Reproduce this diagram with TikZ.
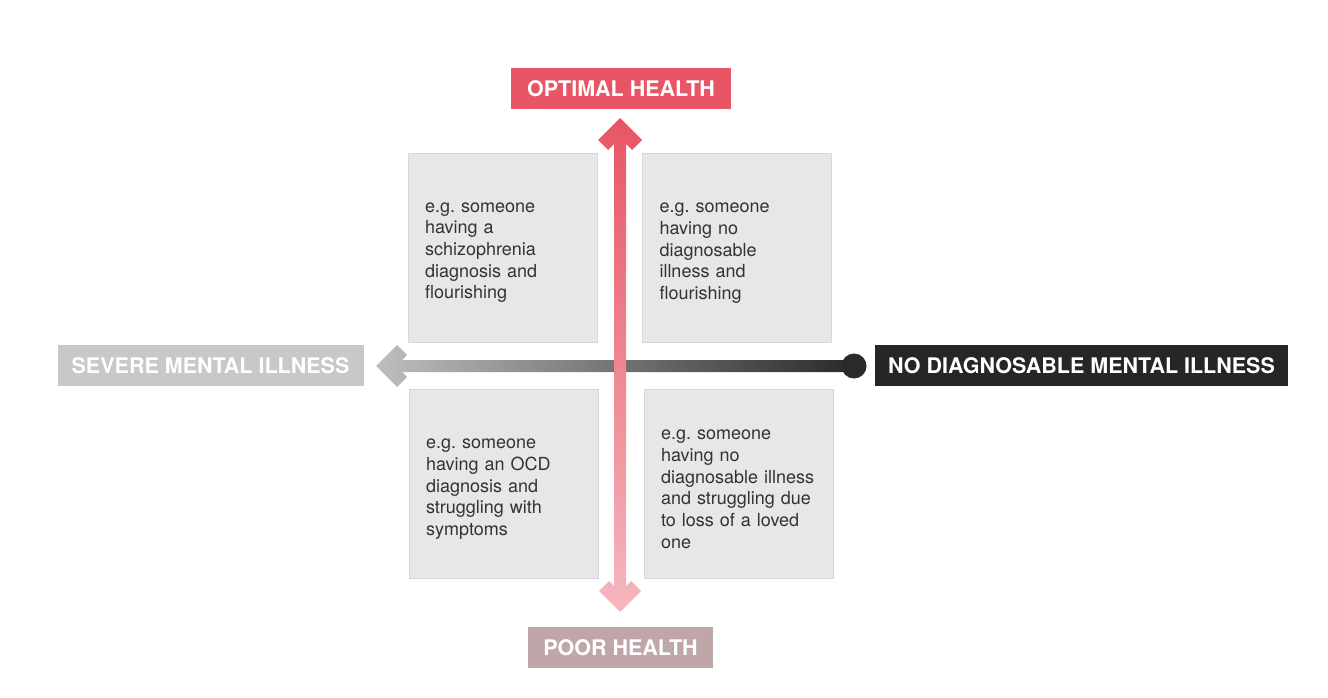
\documentclass[tikz,border=0pt]{standalone}
\usepackage{fontspec}
\setmainfont{TeX Gyre Heros}
\definecolor{optc}{HTML}{E85565}
\definecolor{poorc}{HTML}{BFA6A9}
\definecolor{sevc}{HTML}{C8C8C8}
\definecolor{nodc}{HTML}{262626}
\definecolor{quadfill}{HTML}{E6E7E8}
\definecolor{quadline}{HTML}{D6D7D8}
\definecolor{textgray}{HTML}{333333}
\definecolor{vtopc}{HTML}{E85565}
\definecolor{vbotc}{HTML}{F5B7BF}
\definecolor{hleftc}{HTML}{BEBEBE}
\definecolor{hrightc}{HTML}{2A2A2A}
\begin{document}
\frenchspacing
\begin{tikzpicture}[x=1pt,y=-1pt,
  lbl/.style={font=\fontsize{21.5}{24}\selectfont\bfseries, text=white, minimum height=41pt, inner sep=0pt},
  quad/.style={fill=quadfill, draw=quadline, line width=0.8pt, minimum width=189pt, minimum height=189pt,
    text width=155pt, inner xsep=17pt, inner ysep=0pt, align=left,
    font=\fontsize{18}{21.7}\selectfont, text=textgray,
    execute at begin node={\rule{0pt}{20pt}}}]
\useasboundingbox (0,0) rectangle (1328,698);

% quadrant boxes
\node[quad] (q1) at (502.5,247.5) {e.g. someone\\having a\\schizophrenia\\diagnosis and\\flourishing};
\node[quad] (q2) at (737,248) {e.g. someone\\having no\\diagnosable\\illness and\\flourishing};
\node[quad] (q3) at (503.5,484) {e.g. someone\\having an OCD\\diagnosis and\\struggling with\\symptoms};
\node[quad] (q4) at (738.5,484) {e.g. someone\\having no\\diagnosable illness\\and struggling due\\to loss of a loved\\one};

% horizontal axis
\shade[left color=hleftc, right color=hrightc]
  (376,366) -- (397,345) -- (407,355) -- (402,360) -- (854,360) -- (854,372)
  -- (402,372) -- (407,377) -- (397,387) -- cycle;
\fill[hrightc] (854,366) circle[radius=12.5pt];

% vertical axis
\shade[top color=vtopc, bottom color=vbotc]
  (620,118) -- (642,140) -- (632,150) -- (626,144) -- (626,586) -- (631,581)
  -- (641,591) -- (620,612) -- (599,591) -- (609,581) -- (614,586)
  -- (614,144) -- (608,150) -- (598,140) -- cycle;

% labels
\node[lbl, fill=optc, minimum width=220pt] (opt) at (621,89) {OPTIMAL HEALTH};
\node[lbl, fill=poorc, minimum width=185pt] (poor) at (620.5,647.5) {POOR HEALTH};
\node[lbl, fill=sevc, minimum width=306pt] (sev) at (210.5,365.5) {SEVERE MENTAL ILLNESS};
\node[lbl, fill=nodc, minimum width=413pt] (nod) at (1081.5,365.5) {NO DIAGNOSABLE MENTAL ILLNESS};
\end{tikzpicture}
\end{document}
